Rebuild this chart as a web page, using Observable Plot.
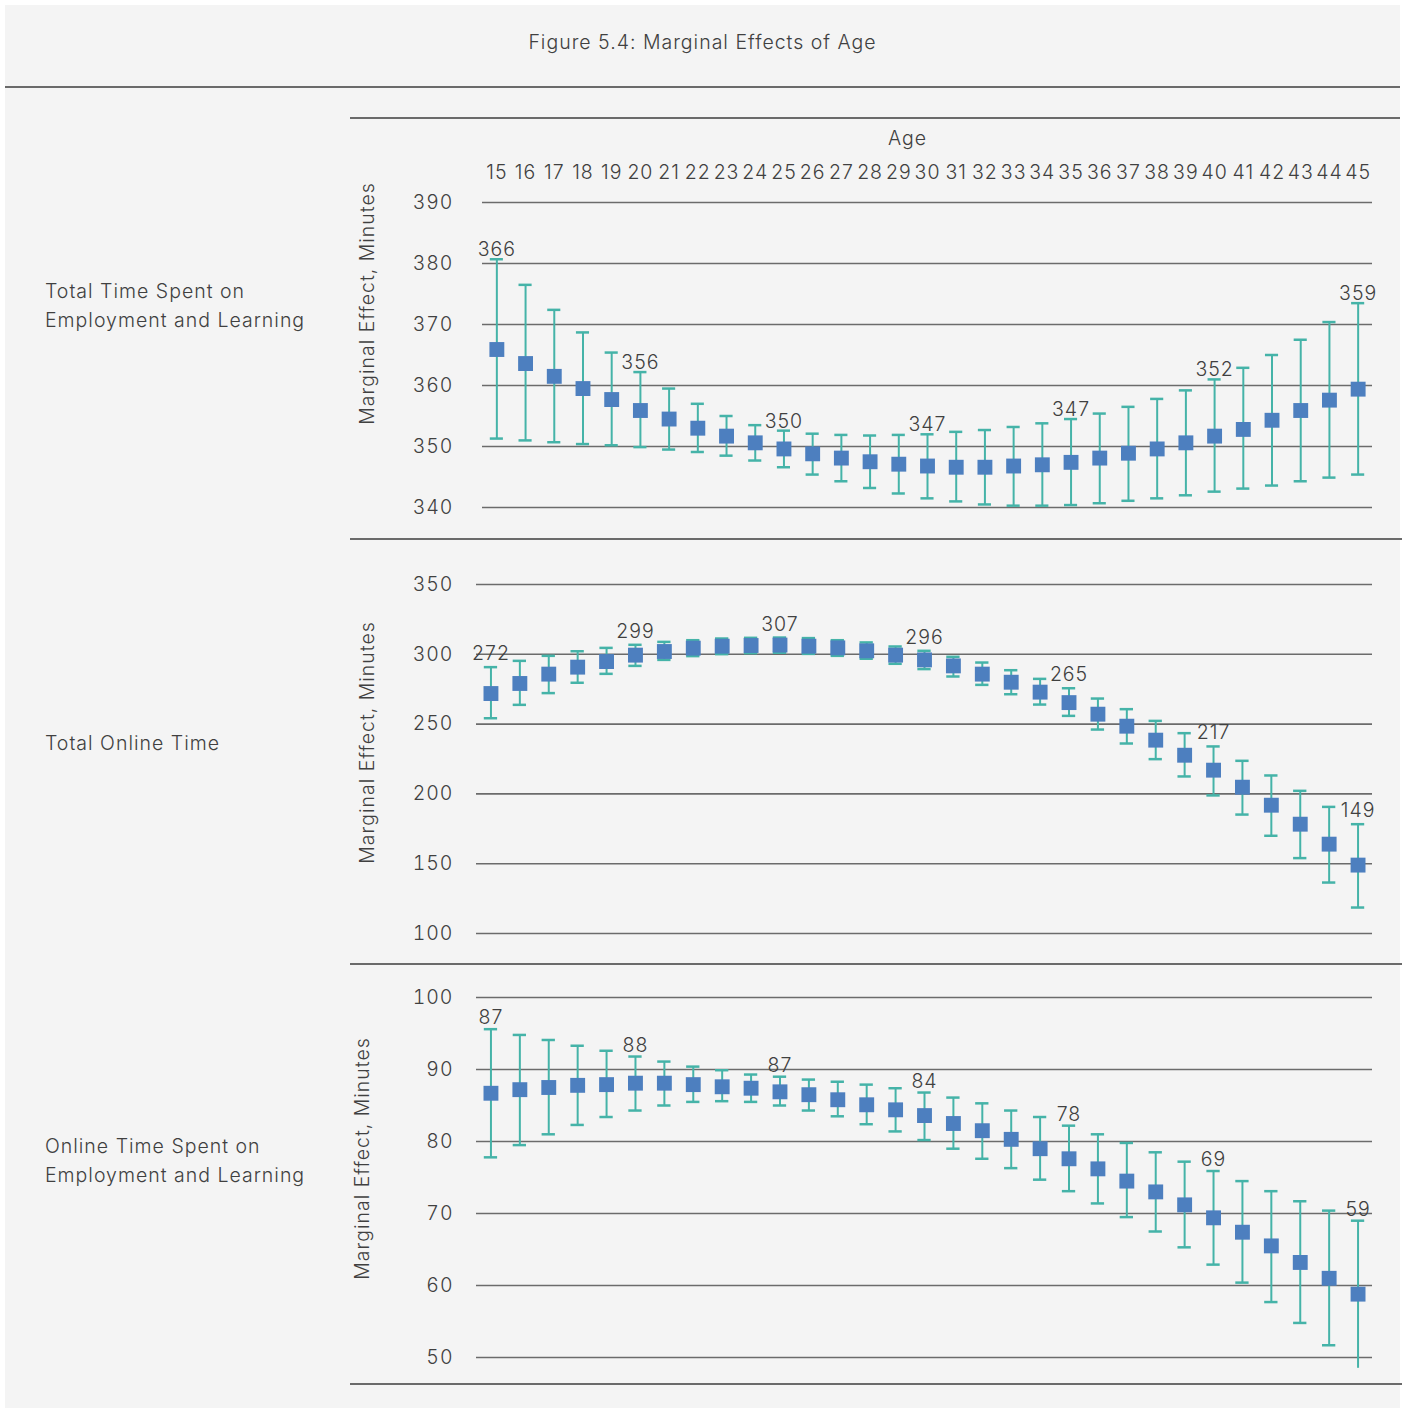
<!DOCTYPE html>
<html>
<head>
<meta charset="utf-8">
<script src="https://cdn.jsdelivr.net/npm/d3@7"></script>
<script src="https://cdn.jsdelivr.net/npm/@observablehq/plot@0.6"></script>
<style>
  body { margin: 0; background: #ffffff; font-family: Inter, "Noto Sans", sans-serif; font-weight: 300; letter-spacing: 1px; color: #404040; }
  #page { position: relative; width: 1402px; height: 1411px; overflow: hidden; }
  #sheet { position: absolute; left: 5px; top: 5px; width: 1395px; height: 1403px; background: #f4f4f4; }
  #title { position: absolute; left: 5px; width: 1395px; top: 31px; text-align: center; font-size: 19.5px; line-height: 23px; }
  .hline { position: absolute; height: 0; border-top: 2px solid #6a6a6a; }
  .rowlabel { position: absolute; left: 45px; font-size: 19.5px; line-height: 29px; white-space: nowrap; }
  .panel { position: absolute; left: 350px; }
  .panel svg text { letter-spacing: 1px; font-weight: 300; }
</style>
</head>
<body>
<div id="page">
  <div id="sheet"></div>
  <div id="title">Figure 5.4: Marginal Effects of Age</div>
  <div class="hline" style="left:5px;width:1395px;top:86px"></div>
  <div class="hline" style="left:350px;width:1050px;top:117px"></div>
  <div class="hline" style="left:350px;width:1052px;top:538px"></div>
  <div class="hline" style="left:350px;width:1052px;top:963px"></div>
  <div class="hline" style="left:350px;width:1052px;top:1383px"></div>
  <div class="rowlabel" style="top:277px">Total Time Spent on<br>Employment and Learning</div>
  <div class="rowlabel" style="top:729px">Total Online Time</div>
  <div class="rowlabel" style="top:1132px">Online Time Spent on<br>Employment and Learning</div>
  <div class="panel" id="p1" style="top:118px"></div>
  <div class="panel" id="p2" style="top:539px"></div>
  <div class="panel" id="p3" style="top:964px"></div>
</div>
<script>
// Age categories shared by all three panels
const ages = [15, 16, 17, 18, 19, 20, 21, 22, 23, 24, 25, 26, 27, 28, 29, 30,
              31, 32, 33, 34, 35, 36, 37, 38, 39, 40, 41, 42, 43, 44, 45];
// Ages whose estimate is printed above the error bar
const labelAges = [15, 20, 25, 30, 35, 40, 45];

// Total time spent on employment and learning (minutes)
const totalEst = [365.9, 363.6, 361.5, 359.5, 357.7, 355.9, 354.5, 353.0, 351.7, 350.6, 349.6,
                  348.8, 348.1, 347.5, 347.1, 346.8, 346.6, 346.6, 346.8, 347.0, 347.4, 348.1,
                  348.9, 349.6, 350.6, 351.7, 352.8, 354.3, 355.9, 357.6, 359.4];
const totalLo  = [351.3, 351.0, 350.7, 350.4, 350.2, 349.9, 349.5, 349.1, 348.5, 347.7, 346.6,
                  345.4, 344.3, 343.2, 342.3, 341.5, 341.0, 340.5, 340.3, 340.3, 340.4, 340.7,
                  341.1, 341.5, 342.0, 342.6, 343.1, 343.6, 344.3, 344.9, 345.4];
const totalHi  = [380.7, 376.5, 372.4, 368.7, 365.4, 362.2, 359.5, 357.0, 355.0, 353.5, 352.6,
                  352.1, 351.9, 351.8, 351.9, 352.0, 352.4, 352.7, 353.2, 353.8, 354.5, 355.4,
                  356.5, 357.8, 359.2, 361.0, 362.9, 365.0, 367.5, 370.4, 373.5];
const totalTicks = [340, 350, 360, 370, 380, 390];

// Total online time (minutes)
const onlineEst = [271.9, 279.1, 285.8, 290.8, 294.8, 299.4, 302.0, 304.4, 305.8, 306.3, 306.6,
                   305.8, 304.6, 302.5, 299.4, 296.0, 291.7, 285.8, 280.0, 272.9, 265.4, 257.1,
                   248.5, 238.5, 227.7, 217.0, 204.8, 191.9, 178.3, 164.0, 149.0];
const onlineLo  = [254.2, 263.8, 272.2, 279.6, 286.0, 291.7, 296.0, 298.7, 300.1, 300.8, 301.1,
                   300.3, 298.9, 296.8, 293.2, 289.4, 284.1, 278.1, 271.4, 264.0, 255.9, 246.1,
                   236.1, 224.9, 212.5, 198.9, 185.2, 170.0, 154.0, 136.5, 118.6];
const onlineHi  = [290.8, 295.3, 298.9, 302.2, 304.6, 306.8, 308.9, 310.1, 311.3, 311.8, 312.0,
                   311.6, 310.1, 308.5, 305.6, 302.5, 298.2, 294.1, 288.6, 282.4, 275.7, 268.3,
                   260.7, 252.3, 243.5, 234.0, 223.7, 213.2, 202.2, 190.7, 178.3];
const onlineTicks = [100, 150, 200, 250, 300, 350];

// Online time spent on employment and learning (minutes)
const workEst = [86.7, 87.2, 87.5, 87.8, 87.9, 88.1, 88.1, 87.9, 87.6, 87.4, 86.9,
                 86.5, 85.8, 85.1, 84.4, 83.6, 82.5, 81.5, 80.3, 79.0, 77.6, 76.2,
                 74.5, 73.0, 71.2, 69.4, 67.4, 65.5, 63.2, 61.0, 58.8];
const workLo  = [77.8, 79.5, 81.0, 82.3, 83.4, 84.3, 85.0, 85.5, 85.6, 85.5, 85.0,
                 84.3, 83.5, 82.4, 81.4, 80.2, 79.0, 77.6, 76.3, 74.7, 73.1, 71.4,
                 69.5, 67.5, 65.3, 62.9, 60.4, 57.7, 54.8, 51.7, 48.5];
const workHi  = [95.6, 94.8, 94.1, 93.3, 92.6, 91.8, 91.1, 90.4, 89.9, 89.3, 89.0,
                 88.6, 88.3, 87.9, 87.4, 86.8, 86.1, 85.3, 84.3, 83.4, 82.2, 81.0,
                 79.8, 78.5, 77.2, 75.9, 74.5, 73.1, 71.7, 70.4, 69.0];
const workTicks = [50, 60, 70, 80, 90, 100];

const yLabel = "Marginal Effect, Minutes";
const BLUE = "#4d7fbf";
const TEAL = "#45b3a8";
const GRID = "#6b6b6b";
const FONT = "Inter, 'Noto Sans', sans-serif";

function rows(est, lo, hi) {
  return ages.map((age, i) => ({age, est: est[i], lo: lo[i], hi: hi[i]}));
}

function panel({est, lo, hi, ticks, height, margins, topAxis, yLabelShift, labelDy}) {
  const data = rows(est, lo, hi);
  const yMin = ticks[0];
  const [mt, mr, mb, ml] = margins;
  const marks = [
    Plot.ruleY(ticks, {stroke: GRID, strokeWidth: 1.6}),
    Plot.axisY({ticks, tickSize: 0, tickPadding: ml === 132 ? 29 : 23, label: null}),
    Plot.ruleX(data, {x: "age", y1: "lo", y2: "hi", stroke: TEAL, strokeWidth: 2}),
    Plot.tickY(data, {x: "age", y: "hi", stroke: TEAL, strokeWidth: 2.5, inset: 7.8}),
    // a cap is drawn only where the lower bound stays inside the axis range
    Plot.tickY(data.filter(d => d.lo >= yMin), {x: "age", y: "lo", stroke: TEAL, strokeWidth: 2.5, inset: 7.8}),
    Plot.dot(data, {x: "age", y: "est", symbol: "square", r: 8.4, fill: BLUE, stroke: "none"}),
    Plot.text(data.filter(d => labelAges.includes(d.age)), {
      x: "age", y: "hi", text: d => String(Math.round(d.est)),
      lineAnchor: "bottom", dy: labelDy, fontSize: 19.5
    }),
    Plot.text([yLabel], {
      frameAnchor: "left", rotate: -90, textAnchor: "middle",
      dx: yLabelShift[0], dy: yLabelShift[1], fontSize: 19.5
    })
  ];
  if (topAxis) {
    marks.push(
      Plot.axisX({anchor: "top", tickSize: 0, tickPadding: 24, label: null}),
      Plot.text(["Age"], {frameAnchor: "top", dx: -20, dy: -64, lineAnchor: "middle", fontSize: 19.5})
    );
  }
  return Plot.plot({
    width: 1052,
    height,
    marginTop: mt, marginRight: mr, marginBottom: mb, marginLeft: ml,
    x: {type: "band", domain: ages, padding: 0, round: false, axis: topAxis ? undefined : null},
    y: {domain: [ticks[0], ticks[ticks.length - 1]]},
    style: {background: "transparent", fontFamily: FONT, fontSize: "19.5px", color: "#404040", overflow: "visible"},
    marks
  });
}

document.getElementById("p1").append(panel({
  est: totalEst, lo: totalLo, hi: totalHi, ticks: totalTicks,
  height: 421, margins: [84, 30, 32, 132], topAxis: true, yLabelShift: [-115, -51.5], labelDy: -3
}));
document.getElementById("p2").append(panel({
  est: onlineEst, lo: onlineLo, hi: onlineHi, ticks: onlineTicks,
  height: 425, margins: [45, 30, 31, 126], topAxis: false, yLabelShift: [-109, -16.5], labelDy: -7
}));
document.getElementById("p3").append(panel({
  est: workEst, lo: workLo, hi: workHi, ticks: workTicks,
  height: 420, margins: [33, 30, 27, 126], topAxis: false, yLabelShift: [-114, -19], labelDy: -5
}));
</script>
</body>
</html>
